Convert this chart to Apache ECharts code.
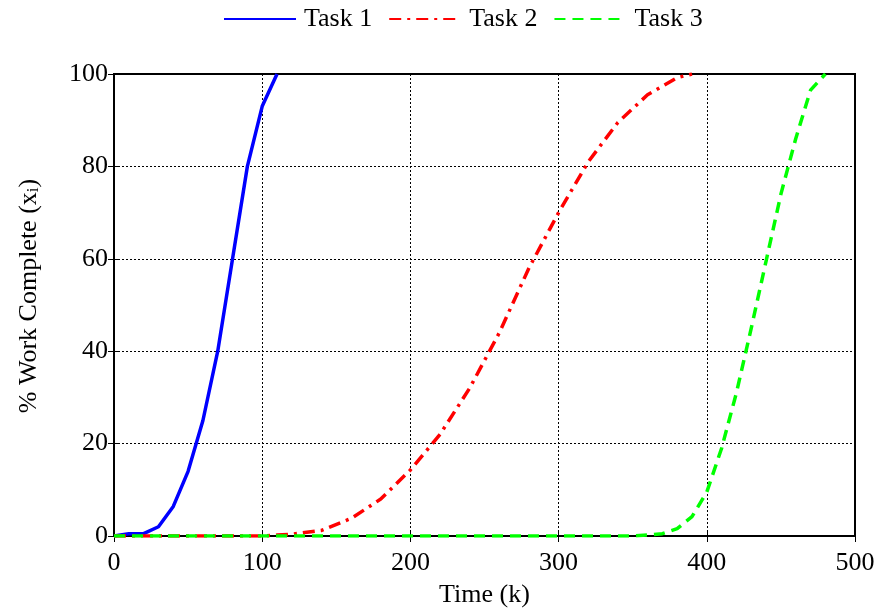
<!DOCTYPE html>
<html>
<head>
<meta charset="utf-8">
<script src="https://cdn.jsdelivr.net/npm/echarts@6/dist/echarts.min.js"></script>
<style>
  html, body { margin: 0; padding: 0; background: #fff; }
  #chart { width: 883px; height: 612px; }
</style>
</head>
<body>
<div id="chart"></div>
<script>
// Time samples (k) and percent of work complete for each task
const task1Time = [0, 10, 20, 30, 40, 50, 60, 70, 80, 90, 100, 110];
const task1Work = [0, 0.5, 0.5, 2, 6.4, 14, 25, 40, 60, 80, 93, 100];

const task2Time = [0, 20, 40, 60, 80, 100, 110, 120, 140, 160, 180, 200, 220, 240, 260, 280, 300, 320, 340, 360, 380, 390];
const task2Work = [0, 0, 0, 0, 0, 0, 0.2, 0.4, 1.2, 3.8, 8, 14.3, 22, 32, 44, 58, 70, 81, 89.5, 95.5, 99.2, 100];

const task3Time = [0, 50, 100, 150, 200, 250, 300, 350, 360, 370, 380, 390, 400, 410, 420, 430, 440, 450, 460, 470, 480];
const task3Work = [0, 0, 0, 0, 0, 0, 0, 0, 0.2, 0.5, 1.6, 4.2, 9.5, 19, 31, 45, 59.5, 74, 86, 96.5, 100];

const xTicks = [0, 100, 200, 300, 400, 500];
const yTicks = [0, 20, 40, 60, 80, 100];

const pairs = (xs, ys) => xs.map((x, i) => [x, ys[i]]);

const font = 'Liberation Serif, Times New Roman, serif';
const fs = 26;
const chart = echarts.init(document.getElementById('chart'));

const gridLine = { show: true, lineStyle: { color: '#000', type: [2, 2], width: 1 } };
const axisLine = { show: true, lineStyle: { color: '#000', width: 2 } };
const tickIn = { show: true, inside: true, length: 6, lineStyle: { color: '#000', width: 1 } };

chart.setOption({
  animation: false,
  backgroundColor: '#fff',
  textStyle: { fontFamily: font },
  legend: {
    top: 1,
    left: 218,
    itemWidth: 72,
    itemHeight: 14,
    itemGap: 16,
    itemStyle: { opacity: 0 },
    textStyle: { fontFamily: font, fontSize: fs, color: '#000', padding: [0, 0, 0, 3] },
    data: ['Task 1', 'Task 2', 'Task 3']
  },
  grid: { left: 114, right: 28, top: 74, bottom: 76, show: true, borderColor: '#000', borderWidth: 2,
    outerBoundsMode: 'none', containLabel: false },
  xAxis: [{
    type: 'value', min: 0, max: 500, interval: 100,
    name: 'Time (k)', nameLocation: 'middle', nameGap: 46,
    nameTextStyle: { fontFamily: font, fontSize: fs, color: '#000' },
    axisLine: axisLine, axisTick: tickIn,
    axisLabel: { fontFamily: font, fontSize: fs, color: '#000', margin: 14,
      formatter: v => xTicks.includes(v) ? String(v) : '' },
    splitLine: gridLine
  }, {
    type: 'value', position: 'top', min: 0, max: 500, interval: 100,
    axisLine: axisLine, axisTick: tickIn, axisLabel: { show: false }, splitLine: { show: false }
  }],
  yAxis: [{
    type: 'value', min: 0, max: 100, interval: 20,
    name: '% Work Complete (x{sub|i})', nameLocation: 'middle', nameGap: 72, nameRotate: 90,
    nameTextStyle: { fontFamily: font, fontSize: fs, color: '#000', padding: [0, 0, 0, 18],
      rich: { sub: { fontFamily: font, fontSize: 17, color: '#000', verticalAlign: 'bottom', padding: [9, 0, 0, 0] } } },
    axisLine: axisLine, axisTick: tickIn,
    axisLabel: { fontFamily: font, fontSize: fs, color: '#000', margin: 6,
      formatter: v => yTicks.includes(v) ? String(v) : '' },
    splitLine: gridLine
  }, {
    type: 'value', position: 'right', min: 0, max: 100, interval: 20,
    axisLine: axisLine, axisTick: tickIn, axisLabel: { show: false }, splitLine: { show: false }
  }],
  series: [{
    name: 'Task 1', type: 'line', showSymbol: false, symbol: 'none',
    data: pairs(task1Time, task1Work),
    lineStyle: { color: '#0000ff', width: 3.5 }, itemStyle: { color: '#0000ff' }, z: 3
  }, {
    name: 'Task 2', type: 'line', showSymbol: false, symbol: 'none',
    data: pairs(task2Time, task2Work),
    lineStyle: { color: '#ff0000', width: 3.5, type: [12, 6, 3, 6] }, itemStyle: { color: '#ff0000' }, z: 4
  }, {
    name: 'Task 3', type: 'line', showSymbol: false, symbol: 'none',
    data: pairs(task3Time, task3Work),
    lineStyle: { color: '#00ff00', width: 3.5, type: [11, 7] }, itemStyle: { color: '#00ff00' }, z: 5
  }]
});
</script>
</body>
</html>
